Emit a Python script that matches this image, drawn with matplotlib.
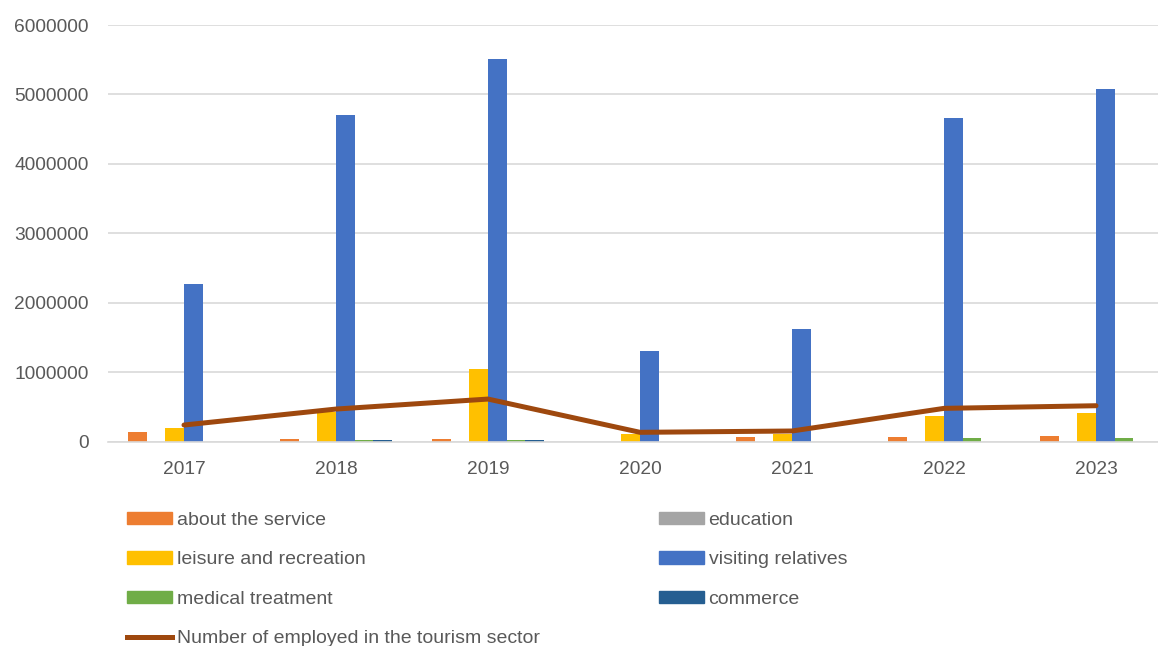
import matplotlib
matplotlib.use('Agg')
import matplotlib.pyplot as plt
import numpy as np
from matplotlib.patches import Patch
from matplotlib.lines import Line2D

years = ['2017', '2018', '2019', '2020', '2021', '2022', '2023']

about_service = [145000, 40000, 40000, 0, 63000, 65000, 86000]
education = [0, 0, 0, 0, 0, 0, 0]
leisure = [193000, 430000, 1046000, 112000, 115000, 374000, 420000]
visiting = [2270000, 4700000, 5510000, 1305000, 1620000, 4660000, 5085000]
medical = [0, 30000, 25000, 0, 0, 60000, 58000]
commerce = [0, 30000, 30000, 0, 0, 0, 0]
employed = [240000, 470000, 614000, 135000, 154000, 480000, 518000]

series = [('about the service', about_service, '#ED7D31'),
          ('education', education, '#A5A5A5'),
          ('leisure and recreation', leisure, '#FFC000'),
          ('visiting relatives', visiting, '#4472C4'),
          ('medical treatment', medical, '#70AD47'),
          ('commerce', commerce, '#255E91')]
line_color = '#9E480E'
text_color = '#595959'

plt.rcParams['font.family'] = 'Liberation Sans'

fig = plt.figure(figsize=(11.58, 6.46), dpi=100)
ax = fig.add_axes([108 / 1158, 1 - 441.7 / 646, 1064 / 1158, 416.7 / 646])

x = np.arange(len(years))
w = 0.122
for k, (name, vals, col) in enumerate(series):
    ax.bar(x + (k - 2.5) * w, vals, width=w, color=col, zorder=2)

ax.plot(x, employed, color=line_color, lw=3.6, zorder=3, solid_capstyle='round')

ax.set_xlim(-0.5, 6.5)
ax.set_ylim(0, 6000000)
ax.set_yticks(np.arange(0, 6000001, 1000000))
ax.set_yticklabels([str(v) for v in range(0, 6000001, 1000000)])
ax.set_xticks(x)
ax.set_xticklabels(years)
ax.yaxis.grid(True, color='#D9D9D9', lw=1.2, zorder=0)
ax.set_axisbelow(True)
for s in ['top', 'right', 'left']:
    ax.spines[s].set_visible(False)
ax.spines['bottom'].set_color('#D9D9D9')
ax.spines['bottom'].set_linewidth(1.2)
ax.tick_params(axis='both', length=0, labelsize=13.8, colors=text_color)
ax.tick_params(axis='y', pad=14)
ax.tick_params(axis='x', pad=14)

# legend, two columns placed separately
col1 = [Patch(color=series[0][2], label=series[0][0]),
        Patch(color=series[2][2], label=series[2][0]),
        Patch(color=series[4][2], label=series[4][0]),
        Line2D([], [], color=line_color, lw=3.6, label='Number of employed in the tourism sector')]
col2 = [Patch(color=series[1][2], label=series[1][0]),
        Patch(color=series[3][2], label=series[3][0]),
        Patch(color=series[5][2], label=series[5][0])]

kw = dict(loc='upper left', frameon=False, fontsize=14, borderpad=0, borderaxespad=0,
          handlelength=2.3, handleheight=0.62, handletextpad=0.25, labelspacing=1.15,
          labelcolor=text_color)
leg1 = fig.legend(handles=col1, bbox_to_anchor=(127 / 1158, 1 - 511.5 / 646), **kw)
leg2 = fig.legend(handles=col2, bbox_to_anchor=(659 / 1158, 1 - 511.5 / 646), **kw)

fig.savefig('out.png', dpi=100)
